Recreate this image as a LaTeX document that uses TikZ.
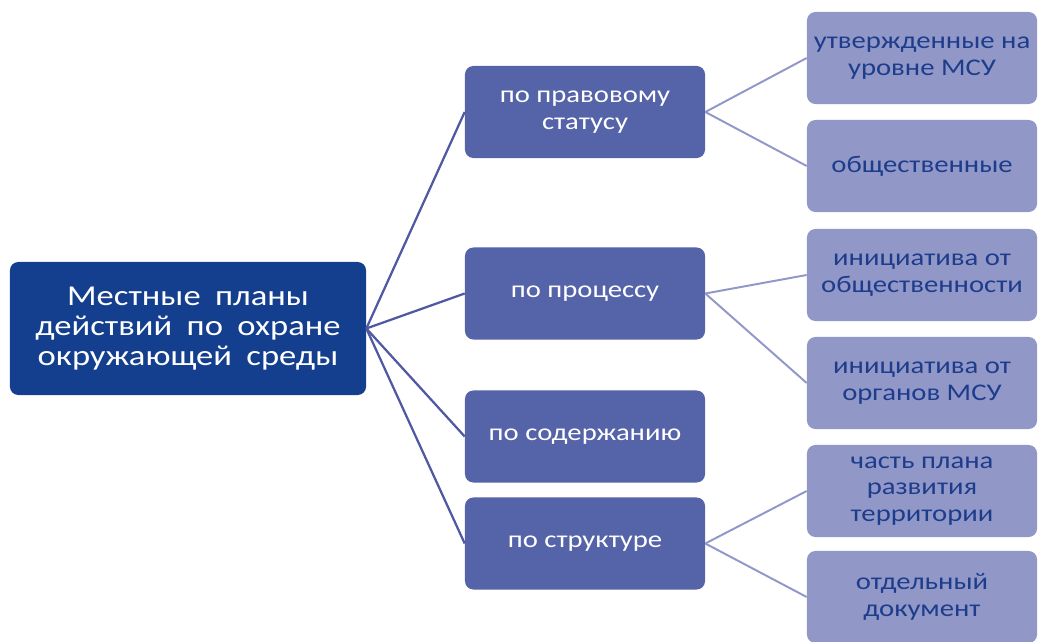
\documentclass[tikz,border=0pt]{standalone}
\usepackage{fontspec}
\setmainfont[FakeStretch=1.2]{Carlito}
\definecolor{rootblue}{HTML}{143F8E}
\definecolor{midblue}{HTML}{5563A8}
\definecolor{leafblue}{HTML}{9198C8}
\definecolor{leaftext}{HTML}{1E3C8C}
\definecolor{rootline}{HTML}{5058A2}
\newcommand\rootfont{\fontsize{20.5}{21.5}\selectfont\spaceskip=0.5em plus 0.1em\relax}
\tikzset{
	rootbox/.style={rectangle,rounded corners=6pt,fill=rootblue,text=white,align=center,
		minimum width=8.9cm,minimum height=3.325cm,font=\rootfont},
	midbox/.style={rectangle,rounded corners=6pt,fill=midblue,text=white,align=center,
		minimum width=6cm,minimum height=2.3cm,font=\fontsize{17}{19}\selectfont},
	leafbox/.style={rectangle,rounded corners=6pt,fill=leafblue,text=leaftext,align=center,
		minimum width=5.75cm,minimum height=2.3cm,font=\fontsize{17}{19}\selectfont},
	rootlink/.style={draw=rootline,line width=1.6pt},
	leaflink/.style={draw=leafblue,line width=1.4pt}
}
\begin{document}
\begin{tikzpicture}[x=0.025cm,y=-0.025cm]
				\useasboundingbox (0,0) rectangle (1039,642);
				% root
				\node[rootbox] (root) at (188,328.5) {Местные планы\\действий по охране\\окружающей среды};
				% second level
				\node[midbox] (status) at (585,112) {по правовому\\статусу};
				\node[midbox] (process) at (585,293.5) {по процессу};
				\node[midbox] (content) at (585,436.5) {по содержанию};
				\node[midbox] (struct) at (585,543.5) {по структуре};
				% leaves
				\node[leafbox] (msu) at (922,58) {утвержденные на\\уровне МСУ};
				\node[leafbox] (public) at (922,166) {общественные};
				\node[leafbox] (initpub) at (922,275) {инициатива от\\общественности};
				\node[leafbox] (initmsu) at (922,383) {инициатива от\\органов МСУ};
				\node[leafbox] (part) at (922,491) {часть плана\\развития\\территории};
				\node[leafbox] (single) at (922,597) {отдельный\\документ};
				% links
				\foreach \m in {status,process,content,struct}
					\draw[rootlink] (root.east) -- (\m.west);
				\draw[leaflink] (status.east) -- (msu.west);
				\draw[leaflink] (status.east) -- (public.west);
				\draw[leaflink] (process.east) -- (initpub.west);
				\draw[leaflink] (process.east) -- (initmsu.west);
				\draw[leaflink] (struct.east) -- (part.west);
				\draw[leaflink] (struct.east) -- (single.west);
			\end{tikzpicture}
\end{document}
